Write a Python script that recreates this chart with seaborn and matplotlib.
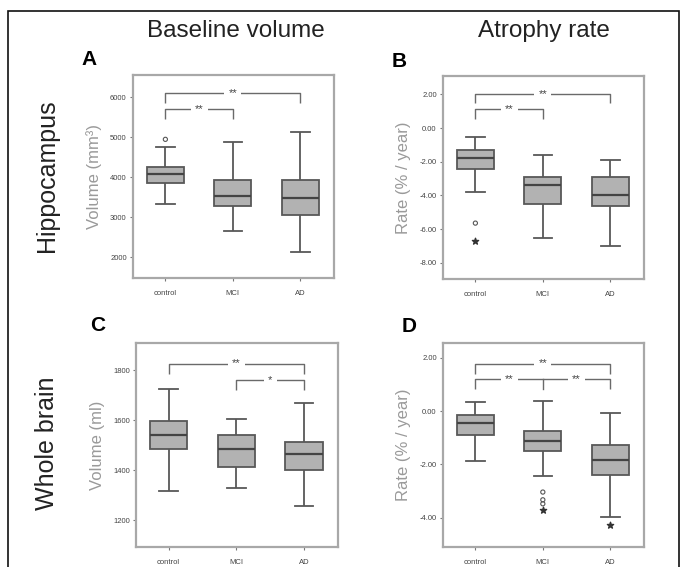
import matplotlib
matplotlib.use("Agg")
import matplotlib.pyplot as plt
import numpy as np
import pandas as pd
import seaborn as sns
from matplotlib.patches import Rectangle

groups = ["control", "MCI", "AD"]

# five-number summaries: [low whisker, Q1, median, Q3, high whisker]
hip_vol_control = [3325, 3850, 4075, 4270, 4750]
hip_vol_mci = [2660, 3270, 3530, 3930, 4875]
hip_vol_ad = [2120, 3060, 3475, 3920, 5140]
hip_vol_outliers = {"control": ([4950], "o")}

hip_rate_control = [-3.8, -2.45, -1.78, -1.32, -0.55]
hip_rate_mci = [-6.55, -4.5, -3.38, -2.89, -1.63]
hip_rate_ad = [-7.0, -4.65, -4.0, -2.89, -1.92]
hip_rate_outliers = {"control": ([-5.65], "o"), "control*": ([-6.7], "*")}

wb_vol_control = [1316, 1486, 1543, 1596, 1727]
wb_vol_mci = [1328, 1414, 1487, 1543, 1605]
wb_vol_ad = [1256, 1403, 1464, 1513, 1669]
wb_vol_outliers = {}

wb_rate_control = [-1.86, -0.89, -0.45, -0.16, 0.34]
wb_rate_mci = [-2.45, -1.5, -1.14, -0.76, 0.36]
wb_rate_ad = [-3.98, -2.39, -1.85, -1.26, -0.08]
wb_rate_outliers = {"MCI": ([-3.04, -3.33, -3.48], "o"), "MCI*": ([-3.7], "*"),
                    "AD*": ([-4.26], "*")}

hip_vol_ticks = [2000, 3000, 4000, 5000, 6000]
hip_rate_ticks = [2.0, 0.0, -2.0, -4.0, -6.0, -8.0]
wb_vol_ticks = [1200, 1400, 1600, 1800]
wb_rate_ticks = [2.0, 0.0, -2.0, -4.0]

EDGE = "#585858"
FILL = "#b2b2b2"
SPINE = "#a8a8a8"

fig = plt.figure(figsize=(6.81, 5.67), dpi=100)
plt.rcParams["font.family"] = ["Liberation Sans", "DejaVu Sans"]


def panel(rect, series, outliers, ticks, ticklabels, ylim, ylabel, letter, letter_xy, brackets):
    ax = fig.add_axes(rect)
    df = pd.DataFrame({
        "group": np.repeat(groups, 5),
        "value": np.concatenate(series),
    })
    sns.boxplot(data=df, x="group", y="value", order=groups, whis=(0, 100),
                width=0.55, color=FILL, linecolor=EDGE, linewidth=1.3,
                showfliers=False, ax=ax,
                medianprops={"color": "#444444", "linewidth": 1.6})
    for key, (vals, mk) in outliers.items():
        xi = groups.index(key.rstrip("*"))
        if mk == "o":
            ax.scatter([xi] * len(vals), vals, s=9, marker="o", facecolors="none",
                       edgecolors="#555555", linewidths=0.8, zorder=5)
        else:
            ax.scatter([xi] * len(vals), vals, s=22, marker="*", color="#333333",
                       zorder=5)
    ax.set_xlim(-0.48, 2.5)
    ax.set_ylim(*ylim)
    ax.set_yticks(ticks)
    ax.set_yticklabels(ticklabels)
    ax.set_xlabel("")
    ax.set_ylabel(ylabel, fontsize=12, color="#9a9a9a", labelpad=6)
    ax.tick_params(axis="both", labelsize=5.5, labelcolor="#444444", colors="#777777",
                   length=2.5, width=0.8, pad=2)
    ax.tick_params(axis="x", pad=6)
    for s in ax.spines.values():
        s.set_color(SPINE)
        s.set_linewidth(1.6)
    for x0, x1, y, drop, label, mid in brackets:
        ax.plot([x0, x0, x1, x1], [y - drop, y, y, y - drop], color="#6a6a6a", lw=1.0,
                solid_capstyle="butt", zorder=3)
        if mid is not None:
            ax.plot([mid, mid], [y, y - drop], color="#6a6a6a", lw=1.0, zorder=3)
        for lx, txt in label:
            ax.text(lx, y, txt, ha="center", va="center", fontsize=8, color="#444444",
                    zorder=4, bbox=dict(facecolor="white", edgecolor="none", pad=3))
    ax.text(letter_xy[0], letter_xy[1], letter, transform=ax.transAxes, fontsize=15,
            fontweight="bold", ha="center", va="center")
    return ax


W, H = 681, 567


def rect(l, t, r, b):
    return [l / W, 1 - b / H, (r - l) / W, (b - t) / H]


panel(rect(133, 75, 334, 278), [hip_vol_control, hip_vol_mci, hip_vol_ad],
      hip_vol_outliers, hip_vol_ticks, [str(t) for t in hip_vol_ticks],
      (1480, 6560), "Volume (mm³)", "A", (-0.22, 1.075),
      [(0, 2, 6115, 245, [(1, "**")], None), (0, 1, 5700, 250, [(0.5, "**")], None)])

panel(rect(443, 76, 644, 279), [hip_rate_control, hip_rate_mci, hip_rate_ad],
      hip_rate_outliers, hip_rate_ticks, [f"{t:.2f}" for t in hip_rate_ticks],
      (-8.97, 3.09), "Rate (% / year)", "B", (-0.22, 1.07),
      [(0, 2, 2.0, 0.53, [(1, "**")], None), (0, 1, 1.1, 0.58, [(0.5, "**")], None)])

panel(rect(136, 343, 338, 547), [wb_vol_control, wb_vol_mci, wb_vol_ad],
      wb_vol_outliers, wb_vol_ticks, [str(t) for t in wb_vol_ticks],
      (1093, 1909), "Volume (ml)", "C", (-0.19, 1.088),
      [(0, 2, 1827, 40, [(1, "**")], None), (1, 2, 1760, 37, [(1.5, "*")], None)])

panel(rect(443, 343, 644, 547), [wb_rate_control, wb_rate_mci, wb_rate_ad],
      wb_rate_outliers, wb_rate_ticks, [f"{t:.2f}" for t in wb_rate_ticks],
      (-5.1, 2.55), "Rate (% / year)", "D", (-0.17, 1.08),
      [(0, 2, 1.78, 0.38, [(1, "**")], None),
       (0, 2, 1.19, 0.35, [(0.5, "**"), (1.5, "**")], 1)])

fig.text(236 / W, 1 - 31 / H, "Baseline volume", fontsize=17.5, ha="center", va="center",
         color="#222222")
fig.text(544 / W, 1 - 31 / H, "Atrophy rate", fontsize=17.5, ha="center", va="center",
         color="#222222")
fig.text(47 / W, 1 - 176 / H, "Hippocampus", fontsize=18, rotation=90, ha="center",
         va="center", color="#222222")
fig.text(47 / W, 1 - 443 / H, "Whole brain", fontsize=18, rotation=90, ha="center",
         va="center", color="#222222")

fig.patches.append(Rectangle((8 / W, -0.05), (679 - 8) / W, 1.05 - 11 / H,
                             transform=fig.transFigure, fill=False, edgecolor="#111111",
                             linewidth=1.2))

fig.savefig("out.png", dpi=100)
